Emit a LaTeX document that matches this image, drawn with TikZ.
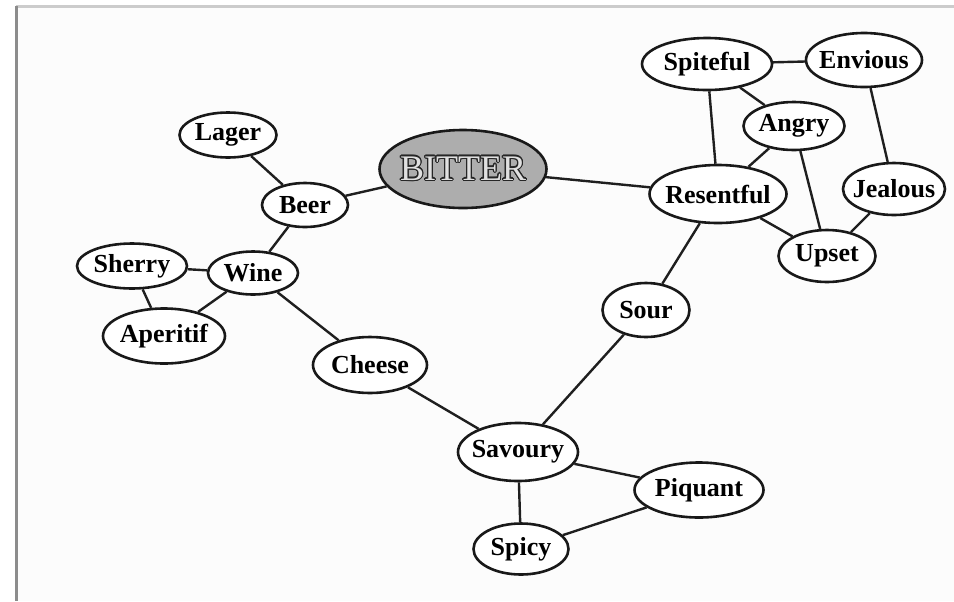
\documentclass[tikz,border=0pt]{standalone}
\usepackage{fontspec}
\setmainfont{Liberation Serif}
\usepackage{contour}
\contourlength{0.6pt}
\usetikzlibrary{shapes.geometric}

\begin{document}
\begin{tikzpicture}[
  x=0.5pt, y=-0.5pt,
  word/.style={ellipse, draw=black!90, line width=1.3pt, fill=white, inner xsep=-30pt, inner ysep=0pt,
    font=\bfseries\fontsize{13}{15}\selectfont},
  hub/.style={word, fill=black!32, font=\fontsize{18}{20}\selectfont},
  link/.style={line width=1.2pt, draw=black!88},
  frame/.style={line width=1.5pt}
]
\useasboundingbox (0,0) rectangle (954,601);
\fill[white!99!black] (17,7) rectangle (954,601);
\draw[frame, draw=black!20] (16,6) -- (954,6);
\draw[frame, draw=black!45] (16,6) -- (16,601);

% centre
\node[hub, minimum width=83.5pt, minimum height=39pt] (bitter) at (463,169)
  {\contour{black!85}{\textcolor{black!12}{BITTER}}};

% drinks
\node[word, minimum width=48.5pt, minimum height=22.5pt] (lager) at (228,135) {Lager};
\node[word, minimum width=43pt, minimum height=22pt] (beer) at (305,205) {Beer};
\node[word, minimum width=45pt, minimum height=21.5pt] (wine) at (253,273) {Wine};
\node[word, minimum width=55pt, minimum height=22.5pt] (sherry) at (132,266) {Sherry};
\node[word, minimum width=61pt, minimum height=27.5pt] (aperitif) at (164,336) {Aperitif};
\node[word, minimum width=57pt, minimum height=28pt] (cheese) at (370,365) {Cheese};

% tastes
\node[word, minimum width=60pt, minimum height=29pt] (savoury) at (518,452) {Savoury};
\node[word, minimum width=64.5pt, minimum height=27.5pt] (piquant) at (699,490) {Piquant};
\node[word, minimum width=47.5pt, minimum height=25.5pt] (spicy) at (521,549) {Spicy};
\node[word, minimum width=43.5pt, minimum height=27pt] (sour) at (646,310) {Sour};

% feelings
\node[word, minimum width=68.5pt, minimum height=29pt] (resentful) at (718,194) {Resentful};
\node[word, minimum width=65pt, minimum height=26pt] (spiteful) at (707,64) {Spiteful};
\node[word, minimum width=58pt, minimum height=27pt] (envious) at (864,60) {Envious};
\node[word, minimum width=50.5pt, minimum height=24pt] (angry) at (794,126) {Angry};
\node[word, minimum width=51pt, minimum height=26pt] (jealous) at (894,189) {Jealous};
\node[word, minimum width=48.5pt, minimum height=26pt] (upset) at (827,256) {Upset};

\draw[link] (bitter) -- (beer);
\draw[link] (bitter) -- (resentful);
\draw[link] (lager) -- (beer);
\draw[link] (beer) -- (wine);
\draw[link] (wine) -- (sherry);
\draw[link] (wine) -- (aperitif);
\draw[link] (sherry) -- (aperitif);
\draw[link] (wine) -- (cheese);
\draw[link] (cheese) -- (savoury);
\draw[link] (savoury) -- (sour);
\draw[link] (savoury) -- (piquant);
\draw[link] (savoury) -- (spicy);
\draw[link] (spicy) -- (piquant);
\draw[link] (sour) -- (resentful);
\draw[link] (resentful) -- (spiteful);
\draw[link] (resentful) -- (angry);
\draw[link] (resentful) -- (upset);
\draw[link] (spiteful) -- (envious);
\draw[link] (spiteful) -- (angry);
\draw[link] (angry) -- (upset);
\draw[link] (envious) -- (jealous);
\draw[link] (jealous) -- (upset);

\end{tikzpicture}
\end{document}
